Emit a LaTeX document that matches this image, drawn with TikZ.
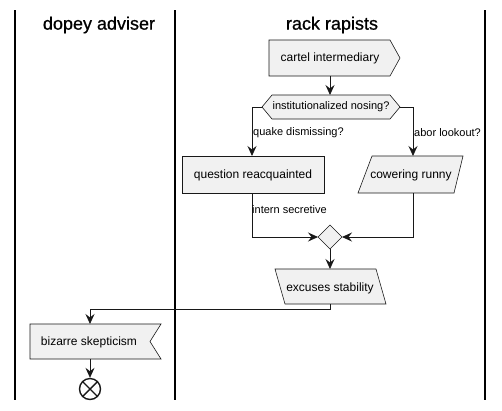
\documentclass[tikz,border=0pt]{standalone}
\usepackage{fontspec}
\setmainfont{Liberation Sans}
\newfontfamily\lanetitlefont[FakeBold=0.8]{Liberation Sans}
\usetikzlibrary{arrows.meta,calc}
\definecolor{fillc}{HTML}{F1F1F1}
\definecolor{linec}{HTML}{181818}
\begin{document}
\begin{tikzpicture}[x=1pt,y=-1pt,
  shapeline/.style={draw=linec,fill=fillc,line width=0.6pt},
  txt/.style={inner sep=0pt,font=\fontsize{12}{14}\selectfont},
  lbl/.style={inner sep=0pt,anchor=west,font=\fontsize{11}{13}\selectfont},
  title/.style={inner sep=0pt,font=\lanetitlefont\fontsize{18}{20}\selectfont},
  lane/.style={draw=black,line width=1.1pt},
  flow/.style={draw=linec,line width=0.8pt,-{Stealth[length=10pt,width=9pt,inset=3.5pt]}}]
\useasboundingbox (0,0) rectangle (502,410);
% lanes
\draw[lane] (15,10) -- (15,400);
\draw[lane] (175,10) -- (175,400);
\draw[lane] (485,10) -- (485,400);
\node[title] (t1) at (99,25) {dopey adviser};
\node[title] (t2) at (332,25) {rack rapists};
% cartel intermediary (send signal)
\draw[shapeline] (269,40) -- (390,40) -- (400,58) -- (390,76) -- (269,76) -- cycle;
\node[txt] (ci) at (330,58) {cartel intermediary};
\coordinate (cib) at (330,76);
% decision hexagon
\draw[shapeline] (262,107) -- (272,95) -- (390,95) -- (400,107) -- (390,119) -- (272,119) -- cycle;
\node[txt,font=\fontsize{11}{13}\selectfont] (dec) at (331,107) {institutionalized nosing?};
\coordinate (dect) at (330,95);
\coordinate (decl) at (262,107);
\coordinate (decr) at (400,107);
% question reacquainted
\draw[shapeline] (182,156) -- (324,156) -- (324,193) -- (182,193) -- cycle;
\node[txt] (qr) at (253,175) {question reacquainted};
\coordinate (qrt) at (252,156);
\coordinate (qrb) at (252,193);
% cowering runny
\draw[shapeline] (372,156) -- (463,156) -- (454,193) -- (358,193) -- cycle;
\node[txt] (cr) at (411,175) {cowering runny};
\coordinate (crt) at (413,156);
\coordinate (crb) at (413,193);
% merge diamond
\draw[shapeline] (330,225) -- (342,237) -- (330,249) -- (318,237) -- cycle;
\coordinate (ml) at (318,237);
\coordinate (mr) at (342,237);
\coordinate (mb) at (330,249);
% excuses stability
\draw[shapeline] (275,269) -- (376,269) -- (386,304) -- (285,304) -- cycle;
\node[txt] (es) at (330,288) {excuses stability};
\coordinate (est) at (330,269);
\coordinate (esb) at (330,304);
% bizarre skepticism (accept event)
\draw[shapeline] (30,324) -- (161,324) -- (150,341.5) -- (161,359) -- (30,359) -- cycle;
\node[txt] (bs) at (89,342) {bizarre skepticism};
\coordinate (bst) at (90,324);
\coordinate (bsb) at (90,359);
% end
\node[circle,draw=linec,line width=1.4pt,fill=white,minimum size=21pt,inner sep=0pt] (end) at (90,389) {};
\draw[linec,line width=1.4pt] ($(end.center)+(-7.4,-7.4)$) -- ($(end.center)+(7.4,7.4)$);
\draw[linec,line width=1.4pt] ($(end.center)+(-7.4,7.4)$) -- ($(end.center)+(7.4,-7.4)$);
% connectors
\draw[flow] (cib) -- (dect);
\draw[flow] (decl) -- (252,107) -- (qrt);
\draw[flow] (decr) -- (413,107) -- (crt);
\node[lbl] (l1) at (253,133) {quake dismissing?};
\node[lbl] (l2) at (414,133) {abor lookout?};
\draw[flow] (qrb) -- (252,237) -- (ml);
\node[lbl] (l3) at (252,210) {intern secretive};
\draw[flow] (crb) -- (413,237) -- (mr);
\draw[flow] (mb) -- (est);
\draw[flow] (esb) -- (330,309) -- (90,309) -- (bst);
\draw[flow] (bsb) -- (end);
\end{tikzpicture}
\end{document}
